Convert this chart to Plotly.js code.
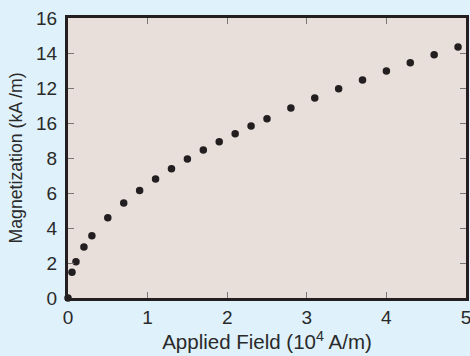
<!DOCTYPE html>
<html>
<head>
<meta charset="utf-8">
<script src="https://cdn.plot.ly/plotly-3.0.1.min.js"></script>
<style>html,body{margin:0;padding:0;background:#dff1fa;}</style>
</head>
<body>
<div id="chart" style="width:470px;height:356px;"></div>
<script>
const field = [0, 0.05, 0.1, 0.2, 0.3, 0.5, 0.7, 0.9, 1.1, 1.3, 1.5, 1.7, 1.9, 2.1, 2.3, 2.5, 2.8, 3.1, 3.4, 3.7, 4.0, 4.3, 4.6, 4.9];
const magnetization = [0, 1.47, 2.07, 2.91, 3.56, 4.59, 5.43, 6.15, 6.8, 7.39, 7.94, 8.46, 8.93, 9.39, 9.83, 10.25, 10.86, 11.43, 11.96, 12.46, 12.97, 13.45, 13.9, 14.34];
const yTickVals = [0, 2, 4, 6, 8, 10, 12, 14, 16];
const yTickText = ["0", "2", "4", "6", "8", "16", "12", "14", "16"];
const xTickVals = [0, 1, 2, 3, 4, 5];

const trace = {
  x: field, y: magnetization, type: 'scatter', mode: 'markers',
  marker: {color: '#231f20', size: 7.5},
  cliponaxis: false, hoverinfo: 'skip'
};
const fam = 'Liberation Sans, Arial, sans-serif';
const tickFont = {family: fam, size: 19, color: '#2a2a2a'};
const xTitleFont = {family: fam, size: 20.5, color: '#2a2a2a'};
const yTitleFont = {family: fam, size: 17.7, color: '#2a2a2a'};
const layout = {
  width: 470, height: 356,
  margin: {l: 68, r: 4, t: 18, b: 58},
  paper_bgcolor: '#dff1fa', plot_bgcolor: '#e8dfdb',
  font: tickFont, showlegend: false,
  xaxis: {
    range: [0, 5], tickvals: xTickVals, ticks: 'inside', ticklen: 6, tickcolor: '#777',
    showline: true, linewidth: 3, linecolor: '#231f20', mirror: 'ticks',
    showgrid: false, zeroline: false, tickfont: tickFont, ticklabeloverflow: 'allow',
    title: {text: 'Applied Field (10<sup>4</sup> A/m)', font: xTitleFont, standoff: 3}
  },
  yaxis: {
    range: [0, 16], tickvals: yTickVals, ticktext: yTickText, ticks: 'inside', ticklen: 6, tickcolor: '#777',
    showline: true, linewidth: 3, linecolor: '#231f20', mirror: 'ticks',
    showgrid: false, zeroline: false, tickfont: tickFont, ticklabeloverflow: 'allow', ticklabelstandoff: 4,
    title: {text: 'Magnetization (kA /m)', font: yTitleFont, standoff: 9}
  }
};
Plotly.newPlot('chart', [trace], layout, {displayModeBar: false, staticPlot: true});
</script>
</body>
</html>
